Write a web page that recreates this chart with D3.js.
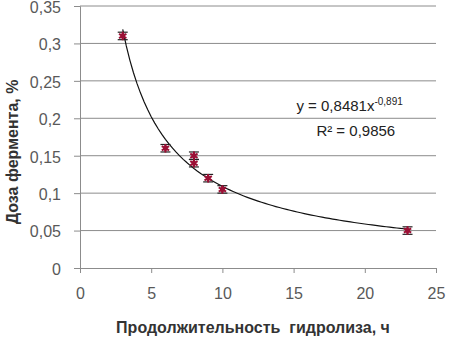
<!DOCTYPE html>
<html>
<head>
<meta charset="utf-8">
<script src="https://cdn.jsdelivr.net/npm/d3@7"></script>
<style>
  body { margin: 0; background: #fff; }
  text { font-family: "Liberation Sans", Arial, sans-serif; }
</style>
</head>
<body>
<div class="canvas"></div>
<script>
// measured points (hydrolysis time, enzyme dose)
const hours = [3, 6, 8, 8, 9, 10, 23];
const dose  = [0.31, 0.16, 0.15, 0.14, 0.12, 0.105, 0.05];
const errBar = 0.005;

// power trendline as shown on the chart
const trendA = 0.8481;
const trendB = -0.891;
const trendX = d3.range(3, 23.01, 0.25);

const xTicks = [0, 5, 10, 15, 20, 25];
const yTicks = [0, 0.05, 0.1, 0.15, 0.2, 0.25, 0.3, 0.35];

const svgWidth = 450, svgHeight = 337;
const margin = {top: 6, right: 14, bottom: 69, left: 80};
const w = svgWidth - margin.left - margin.right;
const h = svgHeight - margin.top - margin.bottom;

const svg = d3.select('.canvas').append('svg')
  .attr('width', svgWidth)
  .attr('height', svgHeight);

const g = svg.append('g')
  .attr('transform', `translate(${margin.left},${margin.top})`);

const x = d3.scaleLinear().domain([0, 25]).range([0, w]);
const y = d3.scaleLinear().domain([0, 0.35]).range([h, 0]);

const fmt = d => String(d).replace('.', ',');

// gridlines
g.selectAll('.grid').data(yTicks.slice(1)).enter().append('line')
  .attr('x1', 0).attr('x2', w)
  .attr('y1', d => y(d)).attr('y2', d => y(d))
  .attr('stroke', '#8c8c8c').attr('stroke-width', 1);

// y axis
const yAxis = g.append('g').call(d3.axisLeft(y).tickValues(yTicks).tickFormat(fmt).tickSize(6).tickPadding(13));
yAxis.select('.domain').attr('stroke', '#8c8c8c');
yAxis.selectAll('line').attr('stroke', '#8c8c8c');
yAxis.selectAll('text').attr('fill', '#595959').attr('dy', '0.4em').style('font-size', '16px');

// x axis
const xAxis = g.append('g').attr('transform', `translate(0,${h})`)
  .call(d3.axisBottom(x).tickValues(xTicks).tickSize(5).tickPadding(15));
xAxis.select('.domain').attr('stroke', '#8c8c8c');
xAxis.selectAll('line').attr('stroke', '#8c8c8c');
xAxis.selectAll('text').attr('fill', '#595959').style('font-size', '16px');

// trendline
g.append('path')
  .datum(trendX)
  .attr('fill', 'none')
  .attr('stroke', '#111')
  .attr('stroke-width', 1.2)
  .attr('d', d3.line().x(d => x(d)).y(d => y(trendA * Math.pow(d, trendB))));

// points with error caps
const pts = g.selectAll('.pt').data(hours.map((hh, i) => [hh, dose[i]])).enter().append('g')
  .attr('transform', d => `translate(${x(d[0])},${y(d[1])})`);
pts.append('line').attr('x1', 0).attr('x2', 0)
  .attr('y1', d => y(d[1] + errBar) - y(d[1])).attr('y2', d => y(d[1] - errBar) - y(d[1]))
  .attr('stroke', '#222').attr('stroke-width', 1);
pts.append('line').attr('x1', -5).attr('x2', 5)
  .attr('y1', d => y(d[1] + errBar) - y(d[1])).attr('y2', d => y(d[1] + errBar) - y(d[1]))
  .attr('stroke', '#222').attr('stroke-width', 1.2);
pts.append('line').attr('x1', -5).attr('x2', 5)
  .attr('y1', d => y(d[1] - errBar) - y(d[1])).attr('y2', d => y(d[1] - errBar) - y(d[1]))
  .attr('stroke', '#222').attr('stroke-width', 1.2);
pts.append('path')
  .attr('d', d3.symbol().type(d3.symbolAsterisk).size(50)())
  .attr('fill', 'none').attr('stroke', '#9b1035').attr('stroke-width', 2);
pts.append('path')
  .attr('d', d3.symbol().type(d3.symbolDiamond).size(22)())
  .attr('fill', '#9b1035');

// equation
const eq = g.append('text').attr('x', x(15.2)).attr('y', y(0.21))
  .attr('fill', '#222').style('font-size', '15px');
eq.append('tspan').text('y = 0,8481x');
eq.append('tspan').attr('dy', -6).style('font-size', '10px').text('-0,891');
g.append('text').attr('x', x(16.6)).attr('y', y(0.177))
  .attr('fill', '#222').style('font-size', '15px').text('R² = 0,9856');

// axis titles
svg.append('text')
  .attr('x', 253).attr('y', 333)
  .attr('text-anchor', 'middle').attr('font-weight', 'bold')
  .attr('fill', '#333').style('font-size', '16px').style('white-space', 'pre')
  .text('Продолжительность  гидролиза, ч');
svg.append('text')
  .attr('transform', `translate(18,${margin.top + y(0.155)}) rotate(-90)`)
  .attr('text-anchor', 'middle').attr('font-weight', 'bold')
  .attr('fill', '#333').style('font-size', '16px')
  .text('Доза фермента, %');
</script>
</body>
</html>
